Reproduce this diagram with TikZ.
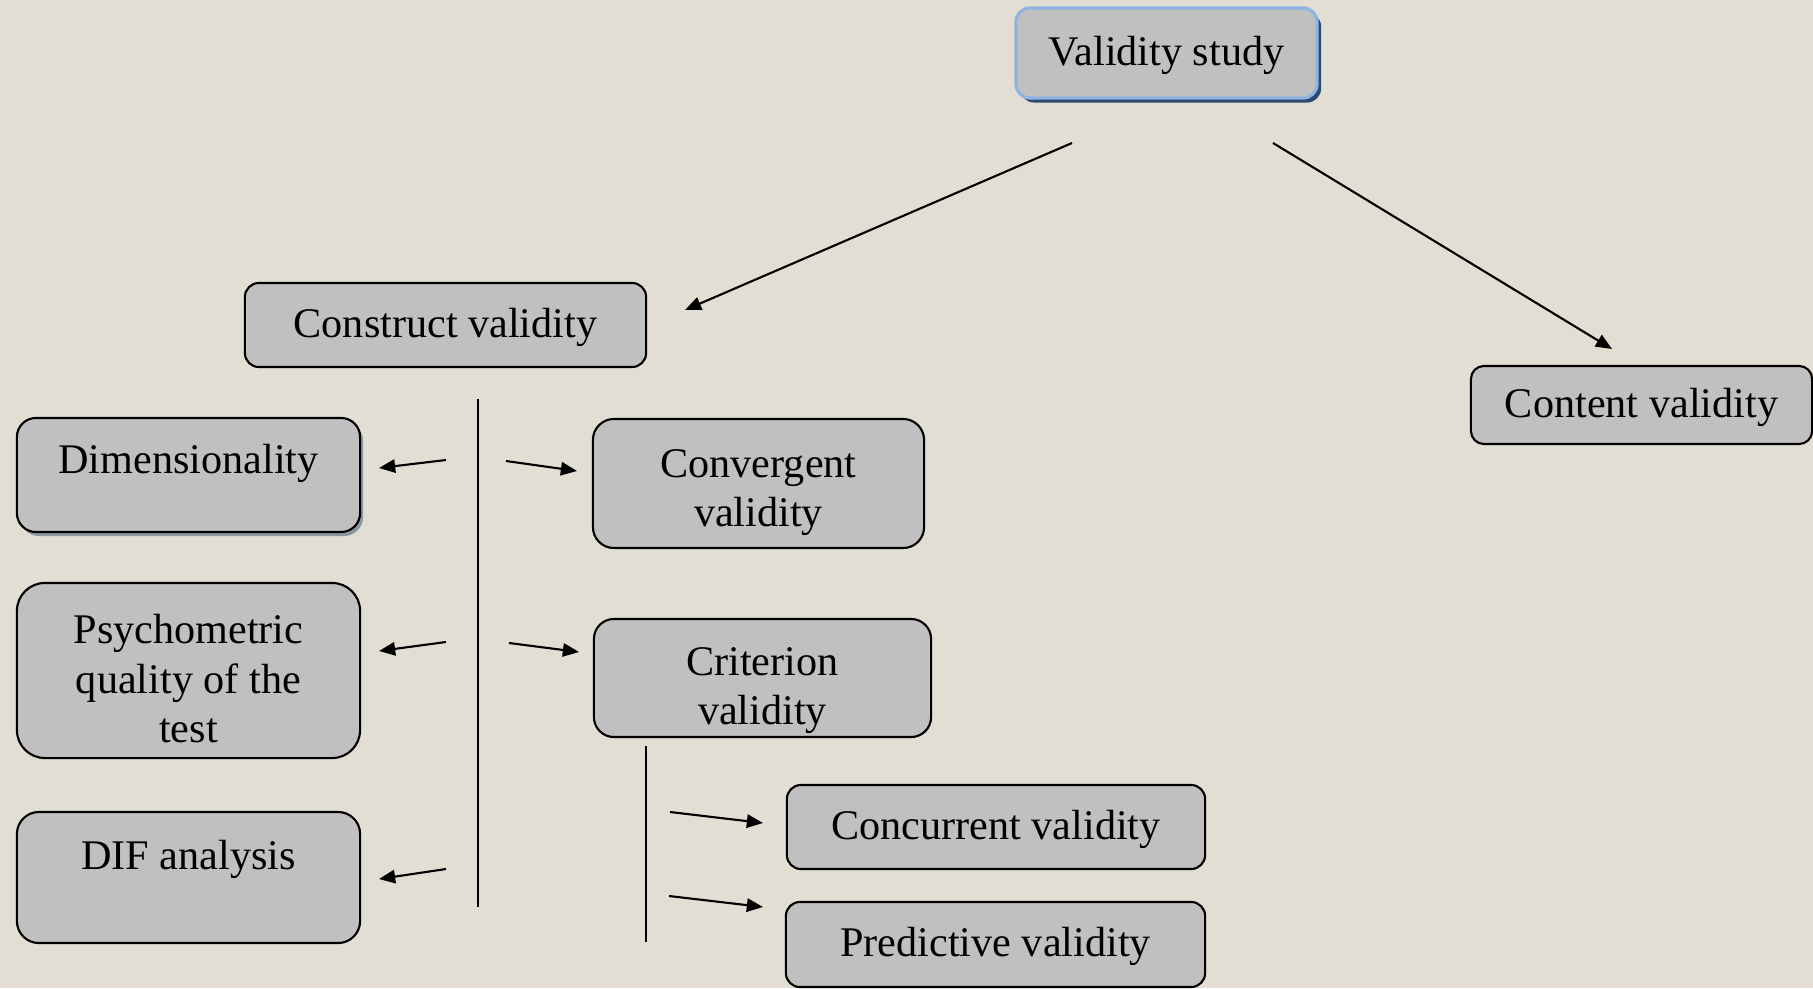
\documentclass[tikz,border=0pt]{standalone}
\usepackage{fontspec}
\setmainfont{Liberation Serif}
\usetikzlibrary{arrows.meta,shadows}
\definecolor{bgc}{HTML}{E3DED3}
\definecolor{boxgray}{HTML}{C0C0C0}
\definecolor{navyshadow}{HTML}{2C4A6E}
\definecolor{lightblue}{HTML}{8EB4E3}
\definecolor{grayshadow}{HTML}{8C96A3}
\begin{document}
\begin{tikzpicture}[x=0.01cm,y=-0.01cm]
\tikzstyle{bx} = [draw=black,fill=boxgray,line width=0.6pt,rounded corners=0.14cm,inner sep=0pt,align=center,
  font=\fontsize{12}{14.2}\selectfont,text height=10pt,text depth=3pt]
\tikzstyle{arr} = [line width=0.6pt,-{Triangle[length=4.6pt,width=3.8pt]}]
\tikzstyle{trunk} = [line width=0.6pt]

\useasboundingbox (0,0) rectangle (1813,988);
\clip (0,0) rectangle (1813,988);
\fill[bgc] (0,0) rectangle (1813,988);

\node[bx,draw=lightblue,line width=0.9pt,minimum width=3.01cm,minimum height=0.9cm,
  drop shadow={shadow xshift=0.04cm,shadow yshift=-0.045cm,fill=navyshadow,opacity=1}] (vs) at (1166.5,53) {Validity study};
\node[bx,minimum width=4.01cm,minimum height=0.84cm] (cons) at (445.5,325) {Construct validity};
\node[bx,minimum width=3.41cm,minimum height=0.78cm,rounded corners=0.13cm] (cont) at (1641.5,405) {Content validity};

\node[bx,minimum width=3.43cm,minimum height=1.14cm,rounded corners=0.19cm,text depth=10.6pt,
  drop shadow={shadow xshift=0.03cm,shadow yshift=-0.04cm,fill=grayshadow,opacity=1}] (dim) at (188.5,475) {Dimensionality};
\node[bx,minimum width=3.43cm,minimum height=1.75cm,rounded corners=0.28cm,text height=44.2pt] (psy) at (188.5,670.5) {Psychometric\\quality of the\\test};
\node[bx,minimum width=3.43cm,minimum height=1.31cm,rounded corners=0.22cm,text depth=14.8pt] (dif) at (188.5,877.5) {DIF analysis};

\node[bx,minimum width=3.31cm,minimum height=1.29cm,rounded corners=0.21cm,text height=27.7pt] (conv) at (758.5,483.5) {Convergent\\validity};
\node[bx,minimum width=3.37cm,minimum height=1.18cm,rounded corners=0.2cm,text height=29.7pt] (crit) at (762.5,678) {Criterion\\validity};
\node[bx,minimum width=4.18cm,minimum height=0.84cm] (conc) at (996,827) {Concurrent validity};
\node[bx,minimum width=4.19cm,minimum height=0.85cm] (pred) at (995.5,944.5) {Predictive validity};

\coordinate (vs-l) at (1072,143);
\coordinate (cons-in) at (685,310);
\coordinate (vs-r) at (1273,143);
\coordinate (cont-in) at (1612,349);
\draw[arr] (vs-l) -- (cons-in);
\draw[arr] (vs-r) -- (cont-in);

\coordinate (t1) at (478,399);
\coordinate (t2) at (478,907);
\draw[trunk] (t1) -- (t2);
\coordinate (dim-out) at (446,460);
\coordinate (dim-in) at (379,468);
\coordinate (psy-out) at (446,642);
\coordinate (psy-in) at (379,651);
\coordinate (dif-out) at (446,869);
\coordinate (dif-in) at (379,879);
\coordinate (conv-out) at (506,461);
\coordinate (conv-in) at (577,471);
\coordinate (crit-out) at (509,643);
\coordinate (crit-in) at (579,652);
\draw[arr] (dim-out) -- (dim-in);
\draw[arr] (psy-out) -- (psy-in);
\draw[arr] (dif-out) -- (dif-in);
\draw[arr] (conv-out) -- (conv-in);
\draw[arr] (crit-out) -- (crit-in);

\coordinate (s1) at (646,746);
\coordinate (s2) at (646,942);
\draw[trunk] (s1) -- (s2);
\coordinate (conc-out) at (670,812);
\coordinate (conc-in) at (763,823);
\coordinate (pred-out) at (669,896);
\coordinate (pred-in) at (763,907);
\draw[arr] (conc-out) -- (conc-in);
\draw[arr] (pred-out) -- (pred-in);
\end{tikzpicture}
\end{document}
